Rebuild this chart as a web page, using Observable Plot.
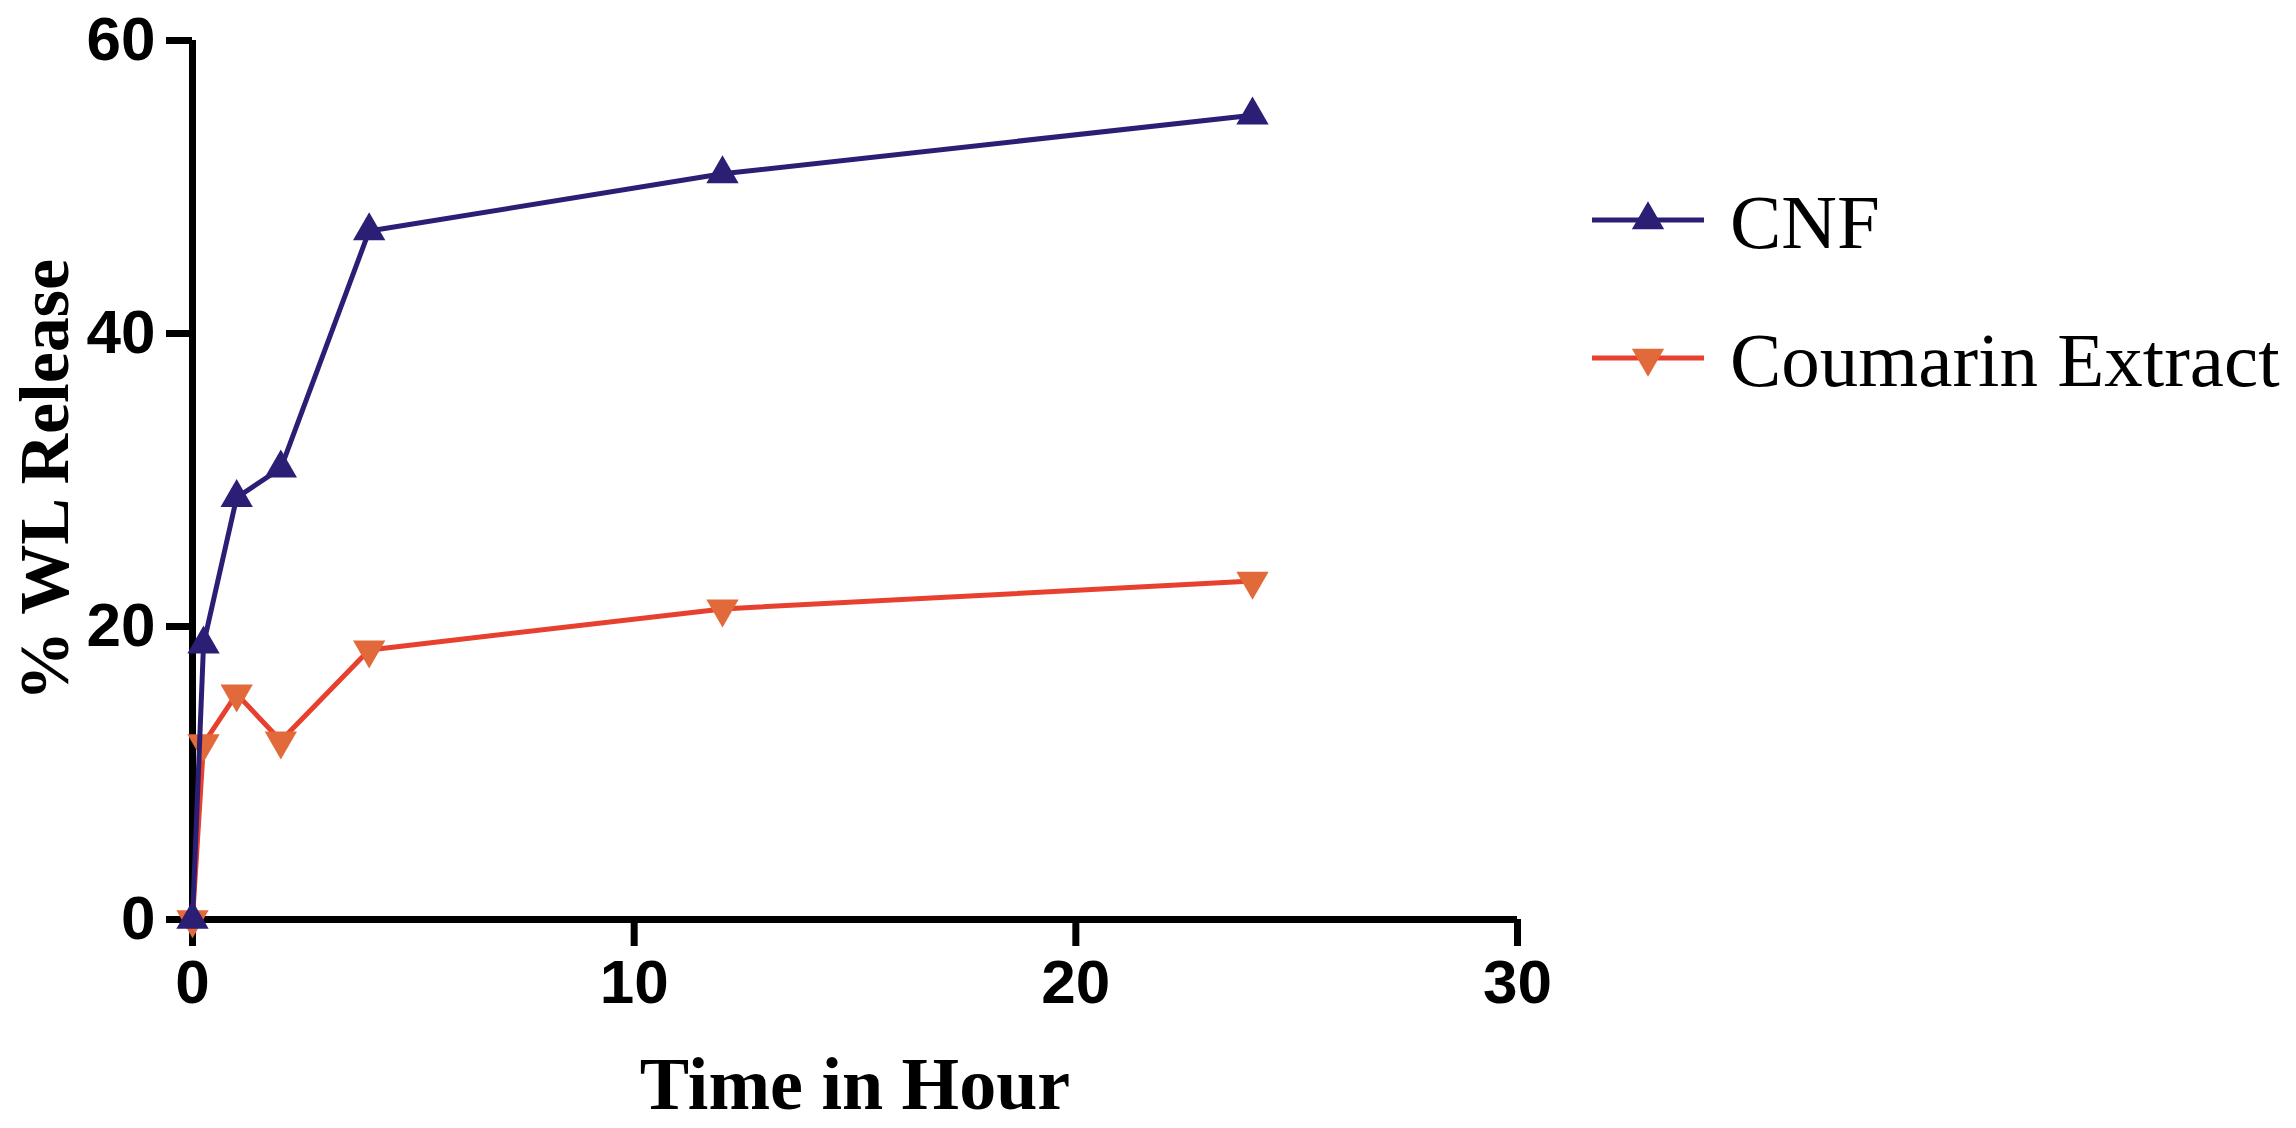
<!DOCTYPE html>
<html>
<head>
<meta charset="utf-8">
<script src="https://cdn.jsdelivr.net/npm/d3@7"></script>
<script src="https://cdn.jsdelivr.net/npm/@observablehq/plot@0.6"></script>
<style>
  html, body { margin: 0; padding: 0; background: #fff; }
  #wrap { position: relative; width: 2296px; height: 1128px; overflow: hidden; }
  #wrap > svg { position: absolute; left: 0; top: 0; }
</style>
</head>
<body>
<div id="wrap"></div>
<script>
// ---- data ----
const time = [0, 0.25, 1, 2, 4, 12, 24];
const cnf = [0, 18.8, 28.8, 30.8, 47.0, 50.9, 54.9];
const coumarin = [0, 12.0, 15.4, 12.2, 18.4, 21.2, 23.1];
const seriesNames = ["CNF", "Coumarin Extract"];
const xTicks = [0, 10, 20, 30];
const yTicks = [0, 20, 40, 60];
const xLabel = "Time in Hour";
const yLabel = "% WL Release";

const lineColors = ["#2a1f75", "#e8402e"];
const markColors = ["#2a1f75", "#e26a3a"];

const rowsCNF = time.map((t, i) => ({t, v: cnf[i], s: seriesNames[0]}));
const rowsCou = time.map((t, i) => ({t, v: coumarin[i], s: seriesNames[1]}));

const W = 2296, H = 1128;
const mL = 192, mR = 779, mT = 40, mB = 209;

const plot = Plot.plot({
  width: W,
  height: H,
  marginLeft: mL,
  marginRight: mR,
  marginTop: mT,
  marginBottom: mB,
  style: {background: "white", color: "black"},
  x: {domain: [0, 30]},
  y: {domain: [0, 60]},
  marks: [
    Plot.axisY({ticks: yTicks, tickSize: 26, tickPadding: 11, strokeWidth: 7, stroke: "black",
      fontSize: 62, fontWeight: "bold", fontFamily: "Liberation Sans", fill: "black", label: null}),
    Plot.axisX({ticks: xTicks, tickSize: 27, tickPadding: 12, strokeWidth: 7, stroke: "black",
      fontSize: 62, fontWeight: "bold", fontFamily: "Liberation Sans", fill: "black", label: null}),
    Plot.ruleX([0], {stroke: "black", strokeWidth: 7}),
    Plot.ruleY([0], {stroke: "black", strokeWidth: 7}),
    Plot.line(rowsCou, {x: "t", y: "v", stroke: lineColors[1], strokeWidth: 5}),
    Plot.dot(rowsCou, {x: "t", y: "v", symbol: "triangle", r: 12, fill: markColors[1], stroke: "none", rotate: 180}),
    Plot.line(rowsCNF, {x: "t", y: "v", stroke: lineColors[0], strokeWidth: 5}),
    Plot.dot(rowsCNF, {x: "t", y: "v", symbol: "triangle", r: 12, fill: markColors[0], stroke: "none"}),
    Plot.text([xLabel], {frameAnchor: "bottom", dy: 166, fontSize: 74, fontWeight: "bold",
      fontFamily: "Liberation Serif", lineAnchor: "middle", textAnchor: "middle", fill: "black"}),
    Plot.text([yLabel], {frameAnchor: "left", dx: -147, rotate: -90, fontSize: 70, fontWeight: "bold",
      fontFamily: "Liberation Serif", lineAnchor: "middle", textAnchor: "middle", fill: "black"})
  ]
});
document.getElementById("wrap").appendChild(plot);

// ---- legend (right side) ----
const leg = d3.select("#wrap").append("svg")
  .attr("width", W).attr("height", H)
  .style("pointer-events", "none");
const legX0 = 1592, legX1 = 1704, legY0 = 220, legStep = 138;
seriesNames.forEach((name, i) => {
  const y = legY0 + i * legStep;
  const g = leg.append("g");
  g.append("line").attr("x1", legX0).attr("x2", legX1).attr("y1", y).attr("y2", y)
    .attr("stroke", lineColors[i]).attr("stroke-width", 5);
  g.append("path")
    .attr("d", d3.symbol(d3.symbolTriangle, Math.PI * 12 * 12)())
    .attr("transform", `translate(${(legX0 + legX1) / 2},${y}) rotate(${i === 1 ? 180 : 0})`)
    .attr("fill", markColors[i]);
  g.append("text").attr("x", 1730).attr("y", y + 28)
    .attr("font-family", "Liberation Serif").attr("font-size", 77)
    .attr("fill", "black").text(name);
});
</script>
</body>
</html>
